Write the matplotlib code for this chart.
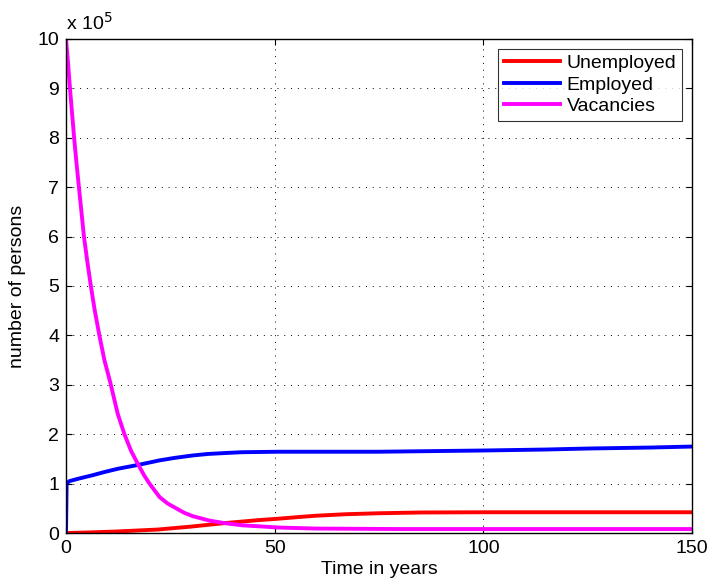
import matplotlib
matplotlib.use("Agg")
import matplotlib.pyplot as plt

plt.rcParams['font.family'] = ['Liberation Sans', 'DejaVu Sans']

# values in units of 1e5 persons
t_vac = [0, 0.5, 0.95, 1.45, 1.95, 2.5, 3.1, 3.7, 4.3, 5.1, 5.95, 6.9, 8.0, 9.2, 10.6, 12.4, 14.0,
         15.6, 17.4, 18.7, 20.0, 22.4, 24.3, 26.4, 28.3, 30.4, 34.4, 38.4, 42.3, 46.3, 51, 60, 70, 80, 100, 150]
vacancies = [10, 9.5, 9.0, 8.5, 8.0, 7.5, 7.0, 6.5, 6.0, 5.5, 5.0, 4.5, 4.0, 3.5, 3.05, 2.41, 2.0,
             1.66, 1.37, 1.17, 1.0, 0.73, 0.6, 0.5, 0.41, 0.34, 0.25, 0.195, 0.155, 0.135, 0.11, 0.09, 0.085, 0.08, 0.08, 0.08]

t_emp = [0, 0.15, 0.8, 3, 6.4, 9, 12.4, 17.4, 22.4, 26, 30.4, 34, 38.4, 42, 46.3, 51, 60, 75, 90, 100, 115, 125, 140, 150]
employed = [0, 1.0, 1.05, 1.1, 1.17, 1.23, 1.30, 1.38, 1.47, 1.52, 1.57, 1.60, 1.62, 1.635, 1.64, 1.645, 1.645, 1.645,
            1.66, 1.67, 1.69, 1.71, 1.73, 1.75]

t_unemp = [0, 5, 12, 17, 22, 26, 30, 34, 38, 42, 46, 51, 56, 60, 67, 75, 85, 100, 120, 150]
unemployed = [0, 0.01, 0.03, 0.05, 0.07, 0.1, 0.13, 0.165, 0.2, 0.23, 0.26, 0.29, 0.325, 0.35, 0.38, 0.40, 0.415, 0.42, 0.42, 0.42]

x_ticks = [0, 50, 100, 150]
y_ticks = list(range(0, 11))

fig = plt.figure(figsize=(7.09, 5.82), dpi=100)
ax = fig.add_axes([66/709, 49/582, 626/709, 494/582])

ax.plot(t_unemp, unemployed, color='#ff0000', lw=2.8, label='Unemployed')
ax.plot(t_emp, employed, color='#0000ff', lw=2.8, label='Employed')
ax.plot(t_vac, vacancies, color='#ff00ff', lw=2.8, label='Vacancies')

ax.set_xlim(0, 150)
ax.set_ylim(0, 10)
ax.set_xticks(x_ticks)
ax.set_yticks(y_ticks)
ax.tick_params(direction='in', top=True, right=True, length=4, width=0.8, labelsize=14, pad=5)
ax.grid(True, color='black', linestyle=(0, (1, 6)), linewidth=0.7)
for s in ax.spines.values():
    s.set_linewidth(1.0)

ax.set_xlabel('Time in years', fontsize=14, labelpad=3)
ax.set_ylabel('number of persons', fontsize=14)
ax.yaxis.set_label_coords(-40/626, 0.5)
ax.text(0, 1.01, 'x 10$^{5}$', transform=ax.transAxes, fontsize=14, ha='left', va='bottom')

leg = ax.legend(loc='upper right', fontsize=14, frameon=True, fancybox=False,
                edgecolor='black', handlelength=2.9, borderaxespad=0.5,
                labelspacing=0.2, handletextpad=0.35, borderpad=0.3)
leg.get_frame().set_linewidth(0.8)

fig.savefig('out.png', dpi=100)
